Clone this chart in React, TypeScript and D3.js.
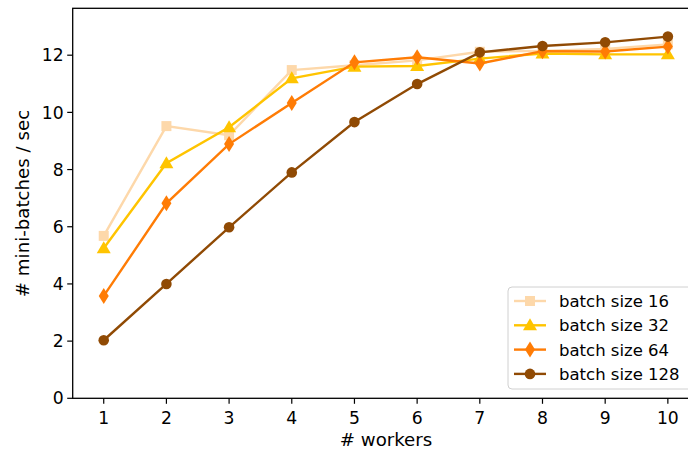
import React from 'react';
import * as d3 from 'd3';

const workers = [1, 2, 3, 4, 5, 6, 7, 8, 9, 10];
const bs16 = [5.68, 9.52, 9.2, 11.48, 11.65, 11.82, 12.12, 12.15, 12.22, 12.38];
const bs32 = [5.25, 8.22, 9.48, 11.19, 11.6, 11.62, 11.88, 12.06, 12.03, 12.03];
const bs64 = [3.58, 6.82, 8.89, 10.33, 11.75, 11.93, 11.71, 12.14, 12.13, 12.3];
const bs128 = [2.03, 4.0, 5.98, 7.9, 9.66, 10.99, 12.1, 12.32, 12.45, 12.65];
const yTicks = [0, 2, 4, 6, 8, 10, 12];

const series = [
  { label: 'batch size 16', values: bs16, color: '#fdd8aa', marker: 'square' },
  { label: 'batch size 32', values: bs32, color: '#ffc400', marker: 'triangle' },
  { label: 'batch size 64', values: bs64, color: '#ff7c05', marker: 'diamond' },
  { label: 'batch size 128', values: bs128, color: '#904a04', marker: 'circle' },
];

const font = 'DejaVu Sans, sans-serif';

function Marker({ type, x, y, color }: { type: string; x: number; y: number; color: string }) {
  if (type === 'square') return <rect x={x - 5} y={y - 5} width={10} height={10} fill={color} />;
  if (type === 'triangle')
    return <path d={`M${x},${y - 7} L${x + 7},${y + 5} L${x - 7},${y + 5} Z`} fill={color} />;
  if (type === 'diamond')
    return <path d={`M${x},${y - 8} L${x + 5},${y} L${x},${y + 8} L${x - 5},${y} Z`} fill={color} />;
  return <circle cx={x} cy={y} r={5.3} fill={color} />;
}

export default function App() {
  const width = 688;
  const height = 449;
  const left = 72.7;
  const top = 8.3;
  const bottom = 398.3;

  const x = d3.scaleLinear().domain([0.505, 10.5]).range([left, left + 626.5]);
  const y = d3.scaleLinear().domain([0, 13.64]).range([bottom, top]);

  const line = d3.line<number>()
    .x((_, i) => x(workers[i]))
    .y(d => y(d));

  const legX = 508, legY = 287;

  return (
    <svg width={width} height={height} style={{ position: 'absolute', left: 0, top: 0 }} fontFamily={font}>
      <rect width={width} height={height} fill="white" />
      {series.map(s => (
        <g key={s.label}>
          <path d={line(s.values) || ''} fill="none" stroke={s.color} strokeWidth={2.4} />
          {s.values.map((v, i) => (
            <Marker key={i} type={s.marker} x={x(workers[i])} y={y(v)} color={s.color} />
          ))}
        </g>
      ))}
      {/* spines */}
      <rect x={left} y={top} width={x(10.5) - left} height={bottom - top} fill="none" stroke="black" strokeWidth={1.3} />
      {workers.map(w => (
        <g key={w}>
          <line x1={x(w)} x2={x(w)} y1={bottom} y2={bottom + 5.5} stroke="black" strokeWidth={1.2} />
          <text x={x(w)} y={424} fontSize={17.2} textAnchor="middle">{w}</text>
        </g>
      ))}
      {yTicks.map(t => (
        <g key={t}>
          <line x1={left - 5.5} x2={left} y1={y(t)} y2={y(t)} stroke="black" strokeWidth={1.2} />
          <text x={left - 9} y={y(t)} dy="0.36em" fontSize={17.2} textAnchor="end">{t}</text>
        </g>
      ))}
      <text x={386} y={446} fontSize={18.2} textAnchor="middle">
        # workers
      </text>
      <text transform={`translate(29,203.5) rotate(-90)`} fontSize={18.2} textAnchor="middle">
        # mini-batches / sec
      </text>
      {/* legend */}
      <rect x={legX} y={legY} width={186} height={102} rx={4} fill="white" fillOpacity={0.85} stroke="#d0d0d0" strokeWidth={1} />
      {series.map((s, i) => {
        const cy = legY + 14 + i * 24.3;
        return (
          <g key={s.label}>
            <line x1={legX + 6} x2={legX + 38} y1={cy} y2={cy} stroke={s.color} strokeWidth={2.4} />
            <Marker type={s.marker} x={legX + 22} y={cy} color={s.color} />
            <text x={legX + 51} y={cy} dy="0.36em" fontSize={16.5}>{s.label}</text>
          </g>
        );
      })}
    </svg>
  );
}
